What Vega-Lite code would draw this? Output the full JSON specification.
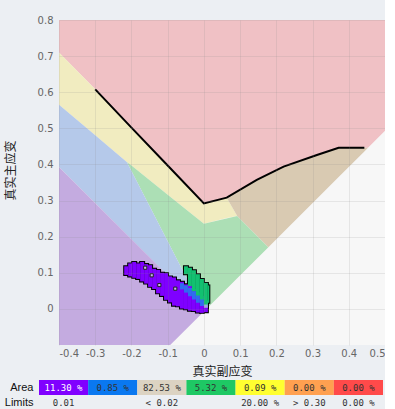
{
  "$schema": "https://vega.github.io/schema/vega-lite/v6.json",
  "background": "#eceff3",
  "padding": {"left": 4, "top": 15, "right": 0, "bottom": 0},
  "config": {"view": {"stroke": null}, "font": "DejaVu Sans"},
  "spacing": 3,
  "resolve": {"scale": {"x": "independent", "y": "independent", "color": "independent"}},
  "datasets": {
    "regions": [
      {"r": "red", "x": -0.4, "lo": 0.71, "hi": 0.8},
      {"r": "red", "x": -0.3, "lo": 0.608, "hi": 0.8},
      {"r": "red", "x": -0.2, "lo": 0.502, "hi": 0.8},
      {"r": "red", "x": -0.1, "lo": 0.397, "hi": 0.8},
      {"r": "red", "x": 0, "lo": 0.292, "hi": 0.8},
      {"r": "red", "x": 0.063, "lo": 0.308, "hi": 0.8},
      {"r": "red", "x": 0.146, "lo": 0.357, "hi": 0.8},
      {"r": "red", "x": 0.22, "lo": 0.394, "hi": 0.8},
      {"r": "red", "x": 0.312, "lo": 0.426, "hi": 0.8},
      {"r": "red", "x": 0.372, "lo": 0.446, "hi": 0.8},
      {"r": "red", "x": 0.443, "lo": 0.446, "hi": 0.8},
      {"r": "red", "x": 0.453, "lo": 0.446, "hi": 0.8},
      {"r": "red", "x": 0.5, "lo": 0.493, "hi": 0.8},
      {"r": "yellow", "x": -0.4, "lo": 0.565, "hi": 0.71},
      {"r": "yellow", "x": -0.3, "lo": 0.481, "hi": 0.608},
      {"r": "yellow", "x": -0.213, "lo": 0.407, "hi": 0.516},
      {"r": "yellow", "x": -0.2, "lo": 0.397, "hi": 0.502},
      {"r": "yellow", "x": -0.1, "lo": 0.316, "hi": 0.397},
      {"r": "yellow", "x": 0, "lo": 0.236, "hi": 0.292},
      {"r": "yellow", "x": 0.063, "lo": 0.252, "hi": 0.308},
      {"r": "yellow", "x": 0.092, "lo": 0.257, "hi": 0.257},
      {"r": "green", "x": -0.213, "lo": 0.407, "hi": 0.407},
      {"r": "green", "x": -0.2, "lo": 0.382, "hi": 0.397},
      {"r": "green", "x": -0.1, "lo": 0.187, "hi": 0.316},
      {"r": "green", "x": 0, "lo": -0.007, "hi": 0.236},
      {"r": "green", "x": 0.092, "lo": 0.085, "hi": 0.257},
      {"r": "green", "x": 0.178, "lo": 0.171, "hi": 0.171},
      {"r": "tan", "x": 0.063, "lo": 0.308, "hi": 0.308},
      {"r": "tan", "x": 0.092, "lo": 0.257, "hi": 0.325},
      {"r": "tan", "x": 0.146, "lo": 0.203, "hi": 0.357},
      {"r": "tan", "x": 0.178, "lo": 0.171, "hi": 0.373},
      {"r": "tan", "x": 0.22, "lo": 0.213, "hi": 0.394},
      {"r": "tan", "x": 0.312, "lo": 0.305, "hi": 0.426},
      {"r": "tan", "x": 0.372, "lo": 0.365, "hi": 0.446},
      {"r": "tan", "x": 0.443, "lo": 0.436, "hi": 0.446},
      {"r": "tan", "x": 0.453, "lo": 0.446, "hi": 0.446},
      {"r": "blue", "x": -0.4, "lo": 0.393, "hi": 0.565},
      {"r": "blue", "x": -0.3, "lo": 0.293, "hi": 0.481},
      {"r": "blue", "x": -0.213, "lo": 0.206, "hi": 0.407},
      {"r": "blue", "x": -0.2, "lo": 0.193, "hi": 0.382},
      {"r": "blue", "x": -0.1, "lo": 0.093, "hi": 0.187},
      {"r": "blue", "x": 0, "lo": -0.007, "hi": -0.007},
      {"r": "purple", "x": -0.4, "lo": -0.1, "hi": 0.393},
      {"r": "purple", "x": -0.093, "lo": -0.1, "hi": 0.086},
      {"r": "purple", "x": 0, "lo": -0.007, "hi": -0.007}
    ],
    "flc": [
      {"x": -0.3, "y": 0.608},
      {"x": -0.2, "y": 0.502},
      {"x": -0.1, "y": 0.397},
      {"x": 0, "y": 0.292},
      {"x": 0.063, "y": 0.308},
      {"x": 0.146, "y": 0.357},
      {"x": 0.22, "y": 0.394},
      {"x": 0.312, "y": 0.426},
      {"x": 0.372, "y": 0.446},
      {"x": 0.443, "y": 0.446}
    ],
    "blob": [
      {"c": "bP", "x": -0.220, "x2": -0.209, "y": 0.118, "y2": 0.094},
      {"c": "bP", "x": -0.209, "x2": -0.198, "y": 0.126, "y2": 0.090},
      {"c": "bP", "x": -0.198, "x2": -0.187, "y": 0.130, "y2": 0.086},
      {"c": "bP", "x": -0.187, "x2": -0.176, "y": 0.126, "y2": 0.083},
      {"c": "bP", "x": -0.176, "x2": -0.165, "y": 0.130, "y2": 0.076},
      {"c": "bP", "x": -0.165, "x2": -0.154, "y": 0.124, "y2": 0.070},
      {"c": "bP", "x": -0.154, "x2": -0.143, "y": 0.121, "y2": 0.061},
      {"c": "bP", "x": -0.143, "x2": -0.132, "y": 0.111, "y2": 0.055},
      {"c": "bP", "x": -0.132, "x2": -0.121, "y": 0.108, "y2": 0.043},
      {"c": "bP", "x": -0.121, "x2": -0.110, "y": 0.100, "y2": 0.036},
      {"c": "bP", "x": -0.110, "x2": -0.099, "y": 0.099, "y2": 0.025},
      {"c": "bP", "x": -0.099, "x2": -0.088, "y": 0.090, "y2": 0.018},
      {"c": "bP", "x": -0.088, "x2": -0.077, "y": 0.087, "y2": 0.009},
      {"c": "bP", "x": -0.077, "x2": -0.066, "y": 0.079, "y2": 0.007},
      {"c": "bP", "x": -0.066, "x2": -0.055, "y": 0.075, "y2": 0.001},
      {"c": "bP", "x": -0.055, "x2": -0.044, "y": 0.068, "y2": -0.001},
      {"c": "bP", "x": -0.044, "x2": -0.033, "y": 0.064, "y2": -0.005},
      {"c": "bP", "x": -0.033, "x2": -0.022, "y": 0.055, "y2": -0.006},
      {"c": "bP", "x": -0.022, "x2": -0.011, "y": 0.046, "y2": -0.010},
      {"c": "bP", "x": -0.011, "x2": 0.000, "y": 0.036, "y2": -0.011},
      {"c": "bP", "x": 0.000, "x2": 0.011, "y": 0.023, "y2": -0.009},
      {"c": "bB", "x": -0.066, "x2": -0.055, "y": 0.071, "y2": 0.054},
      {"c": "bB", "x": -0.055, "x2": -0.044, "y": 0.065, "y2": 0.045},
      {"c": "bB", "x": -0.044, "x2": -0.033, "y": 0.058, "y2": 0.035},
      {"c": "bB", "x": -0.033, "x2": -0.022, "y": 0.049, "y2": 0.026},
      {"c": "bB", "x": -0.022, "x2": -0.011, "y": 0.040, "y2": 0.017},
      {"c": "bB", "x": -0.011, "x2": 0.000, "y": 0.031, "y2": 0.008},
      {"c": "bL", "x": 0.000, "x2": 0.011, "y": 0.022, "y2": 0.003},
      {"c": "bG", "x": -0.055, "x2": -0.044, "y": 0.118, "y2": 0.096},
      {"c": "bG", "x": -0.044, "x2": -0.033, "y": 0.114, "y2": 0.063},
      {"c": "bG", "x": -0.033, "x2": -0.022, "y": 0.107, "y2": 0.049},
      {"c": "bG", "x": -0.022, "x2": -0.011, "y": 0.096, "y2": 0.037},
      {"c": "bG", "x": -0.011, "x2": 0.000, "y": 0.083, "y2": 0.026},
      {"c": "bG", "x": 0.000, "x2": 0.011, "y": 0.072, "y2": 0.012},
      {"c": "bG", "x": 0.011, "x2": 0.015, "y": 0.065, "y2": 0.017}
    ],
    "holes": [
      {"x": -0.162, "y": 0.114},
      {"x": -0.144, "y": 0.093},
      {"x": -0.123, "y": 0.066},
      {"x": -0.079, "y": 0.056}
    ],
    "table": [
      {"row": "Area", "cat": "c1", "txt": "11.30 %"},
      {"row": "Area", "cat": "c2", "txt": "0.85 %"},
      {"row": "Area", "cat": "c3", "txt": "82.53 %"},
      {"row": "Area", "cat": "c4", "txt": "5.32 %"},
      {"row": "Area", "cat": "c5", "txt": "0.09 %"},
      {"row": "Area", "cat": "c6", "txt": "0.00 %"},
      {"row": "Area", "cat": "c7", "txt": "0.00 %"},
      {"row": "Limits", "cat": "c1", "txt": "0.01"},
      {"row": "Limits", "cat": "c3", "txt": "< 0.02"},
      {"row": "Limits", "cat": "c5", "txt": "20.00 %"},
      {"row": "Limits", "cat": "c6", "txt": "> 0.30"},
      {"row": "Limits", "cat": "c7", "txt": "0.00 %"}
    ]
  },
  "vconcat": [
    {
      "width": 326,
      "height": 325,
      "view": {"fill": "#f7f7f7", "stroke": null},
      "encoding": {
        "x": {
          "type": "quantitative",
          "scale": {"domain": [-0.4, 0.5], "nice": false, "zero": false},
          "axis": {
            "title": "真实副应变",
            "values": [-0.4, -0.3, -0.2, -0.1, 0, 0.1, 0.2, 0.3, 0.4, 0.5],
            "format": ".1~f",
            "labelExpr": "replace(datum.label, '−', '-')",
            "grid": true, "gridColor": "#888888", "gridOpacity": 0.16, "zindex": 1,
            "domain": false, "ticks": false,
            "labelFont": "DejaVu Sans", "labelFontSize": 10, "labelColor": "#666666", "labelPadding": 3,
            "titleFont": "Noto Sans CJK SC", "titleFontSize": 12, "titleFontWeight": "normal", "titleColor": "#222222", "titlePadding": 8
          }
        },
        "y": {
          "type": "quantitative",
          "scale": {"domain": [-0.1, 0.8], "nice": false, "zero": false},
          "axis": {
            "title": "真实主应变",
            "titleY": 150,
            "values": [0, 0.1, 0.2, 0.3, 0.4, 0.5, 0.6, 0.7, 0.8],
            "format": ".1~f",
            "grid": true, "gridColor": "#888888", "gridOpacity": 0.16, "zindex": 1,
            "domain": false, "ticks": false,
            "labelFont": "DejaVu Sans", "labelFontSize": 10, "labelColor": "#666666", "labelPadding": 6,
            "titleFont": "Noto Sans CJK SC", "titleFontSize": 12, "titleFontWeight": "normal", "titleColor": "#222222", "titlePadding": 20
          }
        }
      },
      "layer": [
        {
          "data": {"name": "regions"},
          "mark": {"type": "area", "interpolate": "linear"},
          "encoding": {
            "x": {"field": "x", "type": "quantitative"},
            "y": {"field": "lo", "type": "quantitative", "stack": null},
            "y2": {"field": "hi"},
            "color": {
              "field": "r", "type": "nominal", "legend": null,
              "scale": {
                "domain": ["red", "yellow", "green", "tan", "blue", "purple", "bP", "bB", "bL", "bG"],
                "range": ["#f0c1c5", "#f1ecc0", "#acdfb5", "#d9cab2", "#b5c9ea", "#c4abe0", "#7f00ff", "#2f6cf0", "#9fa8dc", "#12c070"]
              }
            }
          }
        },
        {
          "data": {"name": "flc"},
          "mark": {"type": "line", "color": "black", "strokeWidth": 2},
          "encoding": {
            "x": {"field": "x", "type": "quantitative"},
            "y": {"field": "y", "type": "quantitative"}
          }
        },
        {
          "data": {"name": "blob"},
          "mark": {"type": "rect", "fill": "black", "stroke": "black", "strokeWidth": 2},
          "encoding": {
            "x": {"field": "x", "type": "quantitative"},
            "x2": {"field": "x2"},
            "y": {"field": "y", "type": "quantitative"},
            "y2": {"field": "y2"}
          }
        },
        {
          "data": {"name": "blob"},
          "mark": {"type": "rect", "strokeWidth": 0},
          "encoding": {
            "x": {"field": "x", "type": "quantitative"},
            "x2": {"field": "x2"},
            "y": {"field": "y", "type": "quantitative"},
            "y2": {"field": "y2"},
            "color": {"field": "c", "type": "nominal", "legend": null}
          }
        },
        {
          "data": {"name": "holes"},
          "mark": {"type": "square", "size": 10, "fill": "#c9b2f0", "stroke": "#222222", "strokeWidth": 1, "opacity": 1},
          "encoding": {
            "x": {"field": "x", "type": "quantitative"},
            "y": {"field": "y", "type": "quantitative"}
          }
        }
      ]
    },
    {
      "width": 326,
      "height": 30,
      "data": {"name": "table"},
      "encoding": {
        "x": {
          "field": "cat", "type": "nominal", "axis": null,
          "scale": {"domain": ["c1", "c2", "c3", "c4", "c5", "c6", "c7"], "range": [-20, 324], "paddingInner": 0, "paddingOuter": 0}
        },
        "y": {
          "field": "row", "type": "nominal",
          "scale": {"domain": ["Area", "Limits"], "paddingInner": 0, "paddingOuter": 0},
          "axis": {"title": null, "domain": false, "ticks": false, "grid": false, "labelPadding": 26, "labelFont": "Liberation Sans", "labelFontSize": 11, "labelColor": "#111111"}
        }
      },
      "layer": [
        {
          "transform": [{"filter": "datum.row === 'Area'"}],
          "mark": {"type": "rect"},
          "encoding": {
            "color": {
              "field": "cat", "type": "nominal", "legend": null,
              "scale": {
                "domain": ["c1", "c2", "c3", "c4", "c5", "c6", "c7"],
                "range": ["#8000ff", "#0a78f0", "#dcd3c2", "#1ec864", "#ffff30", "#ffa050", "#ff4a4a"]
              }
            }
          }
        },
        {
          "mark": {"type": "text", "font": "DejaVu Sans Mono", "fontSize": 9},
          "encoding": {
            "text": {"field": "txt"},
            "color": {"condition": {"test": "datum.cat === 'c1' && datum.row === 'Area'", "value": "white"}, "value": "#333333"}
          }
        }
      ]
    }
  ]
}
